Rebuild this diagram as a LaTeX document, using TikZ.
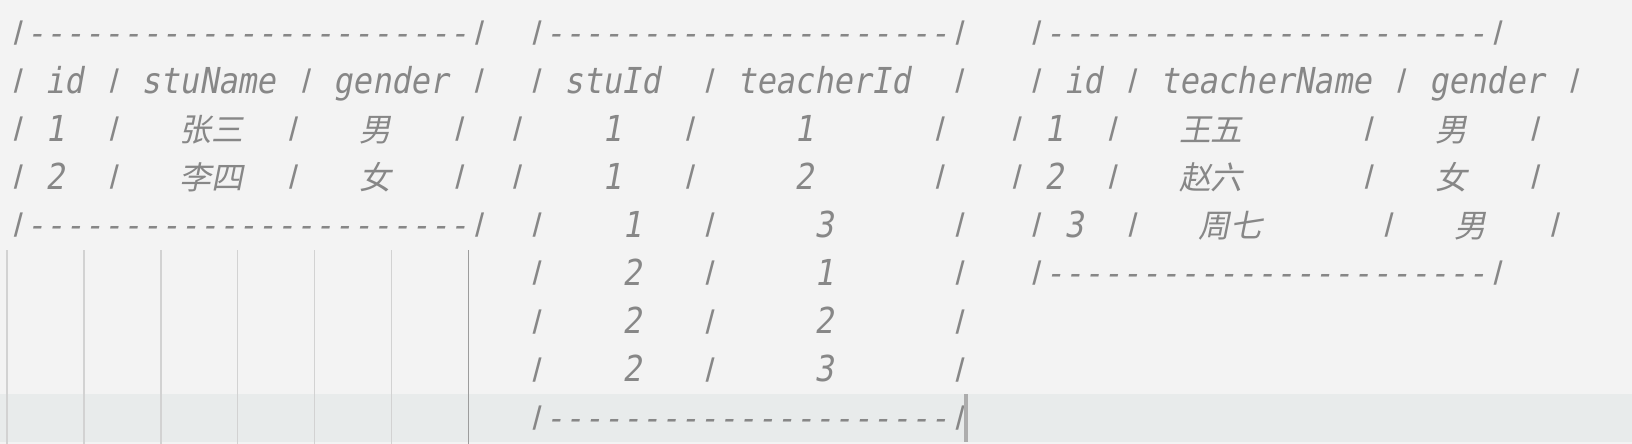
\documentclass[tikz,border=0pt]{standalone}
\usepackage{fontspec}
\usepackage{graphicx}
\newfontfamily\code{DejaVu Sans Mono}[FakeSlant=0.2]
\newfontfamily\cjk{Noto Sans CJK SC}[FakeSlant=0.2]
\newlength\cw \setlength\cw{9.61pt}
\newcommand\sk[1]{\hspace*{#1\cw}}
\newcommand\V{\makebox[\cw]{\raisebox{0.18em}{\scalebox{1}[0.763]{|}}}}
\newcommand\dd{\makebox[\cw]{\raisebox{0.03em}{-}}}
\newcommand\dsh[1]{\foreach\i in {1,...,#1}{\dd}}
\newcommand\A[1]{\scalebox{1}[1.12]{#1}}
\newcommand\C[1]{{\cjk #1}}
\definecolor{bg}{HTML}{F3F3F3}
\definecolor{hl}{HTML}{E8EBEB}
\definecolor{txt}{HTML}{878787}
\definecolor{guide}{HTML}{D2D2D2}
\definecolor{guideact}{HTML}{9C9C9C}
\definecolor{cursorc}{HTML}{ADADAD}
\begin{document}
\begin{tikzpicture}[x=0.5pt,y=-0.5pt,
  rowtxt/.style={anchor=base west, inner sep=0pt, outer sep=0pt,
    font=\code\fontsize{15.96pt}{16pt}\selectfont, text=txt},
  guideline/.style={draw=guide, line width=0.75pt},
  guideactive/.style={draw=guideact, line width=0.75pt}]
\useasboundingbox (0,0) rectangle (1632,444);
\fill[bg] (0,0) rectangle (1632,444);
\fill[hl] (0,394) rectangle (1632,442);
% indent guides
\foreach \c in {0,4,8,12,16,20}{
  \draw[guideline] ({7+\c*19.22},250) -- ({7+\c*19.22},444);
}
\draw[guideactive] ({7+24*19.22},250) -- ({7+24*19.22},444);
% rows
\node[rowtxt] (r1) at (7,45.2) {\V\dsh{23}\V\sk{2}\V\dsh{21}\V\sk{3}\V\dsh{23}\V};
\node[rowtxt] (r2) at (7,93.3) {\V\sk{1}\A{id}\sk{1}\V\sk{1}\A{stuName}\sk{1}\V\sk{1}\A{gender}\sk{1}\V\sk{2}\V\sk{1}\A{stuId}\sk{2}\V\sk{1}\A{teacherId}\sk{2}\V\sk{3}\V\sk{1}\A{id}\sk{1}\V\sk{1}\A{teacherName}\sk{1}\V\sk{1}\A{gender}\sk{1}\V};
\node[rowtxt] (r3) at (7,141.4) {\V\sk{1}\A{1}\sk{2}\V\sk{3}\C{张三}\sk{2}\V\sk{3}\C{男}\sk{3}\V\sk{2}\V\sk{4}\A{1}\sk{3}\V\sk{5}\A{1}\sk{6}\V\sk{3}\V\sk{1}\A{1}\sk{2}\V\sk{3}\C{王五}\sk{6}\V\sk{3}\C{男}\sk{3}\V};
\node[rowtxt] (r4) at (7,189.5) {\V\sk{1}\A{2}\sk{2}\V\sk{3}\C{李四}\sk{2}\V\sk{3}\C{女}\sk{3}\V\sk{2}\V\sk{4}\A{1}\sk{3}\V\sk{5}\A{2}\sk{6}\V\sk{3}\V\sk{1}\A{2}\sk{2}\V\sk{3}\C{赵六}\sk{6}\V\sk{3}\C{女}\sk{3}\V};
\node[rowtxt] (r5) at (7,237.6) {\V\dsh{23}\V\sk{2}\V\sk{4}\A{1}\sk{3}\V\sk{5}\A{3}\sk{6}\V\sk{3}\V\sk{1}\A{3}\sk{2}\V\sk{3}\C{周七}\sk{6}\V\sk{3}\C{男}\sk{3}\V};
\node[rowtxt] (r6) at (7,285.7) {\sk{27}\V\sk{4}\A{2}\sk{3}\V\sk{5}\A{1}\sk{6}\V\sk{3}\V\dsh{23}\V};
\node[rowtxt] (r7) at (7,333.8) {\sk{27}\V\sk{4}\A{2}\sk{3}\V\sk{5}\A{2}\sk{6}\V};
\node[rowtxt] (r8) at (7,381.9) {\sk{27}\V\sk{4}\A{2}\sk{3}\V\sk{5}\A{3}\sk{6}\V};
\node[rowtxt] (r9) at (7,430.0) {\sk{27}\V\dsh{21}\V};
% cursor
\fill[cursorc] (964,394) rectangle (968,442);
\end{tikzpicture}
\end{document}
